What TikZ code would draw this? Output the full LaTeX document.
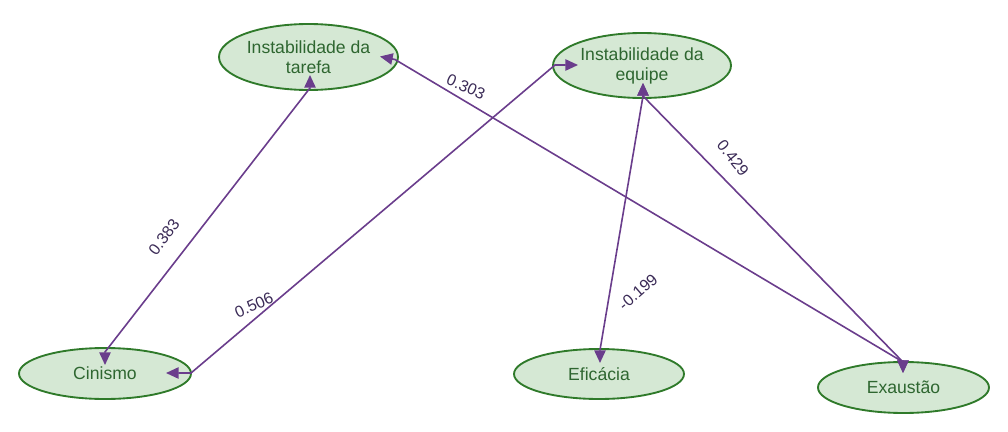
\documentclass[tikz,border=0pt]{standalone}
\usepackage{fontspec}
\setmainfont{Liberation Sans}
\usetikzlibrary{arrows.meta,calc,shapes.geometric}
\definecolor{ellfill}{HTML}{D5E8D4}
\definecolor{elldraw}{HTML}{2F7A2A}
\definecolor{elltext}{HTML}{2E6630}
\definecolor{edgecol}{HTML}{6A3D8C}
\definecolor{labcol}{HTML}{3A2A56}
\tikzset{
  latent/.style={ellipse, draw=elldraw, fill=ellfill, line width=1.4pt, inner sep=0pt,
    text=elltext, align=center, font=\fontsize{13.2}{15}\selectfont},
  sempath/.style={draw=edgecol, line width=1.2pt, {Triangle[length=9.5pt,width=8.5pt]}-{Triangle[length=9.5pt,width=8.5pt]}},
  coef/.style={text=labcol, font=\fontsize{12}{13}\selectfont, inner sep=1pt}
}
\begin{document}
\begin{tikzpicture}[x=0.75pt,y=-0.75pt]
\useasboundingbox (0,0) rectangle (1008,432);
\node[latent, minimum width=134.25pt, minimum height=49.5pt] (tar) at (308.5,57) {Instabilidade da\\tarefa};
\node[latent, minimum width=133.5pt, minimum height=48.75pt] (equ) at (642,65.5) {Instabilidade da\\equipe};
\node[latent, minimum width=129pt, minimum height=38.25pt] (cin) at (105,373.5) {Cinismo};
\node[latent, minimum width=127.5pt, minimum height=37.5pt] (efi) at (599,374) {Eficácia};
\node[latent, minimum width=128.25pt, minimum height=38.25pt] (exa) at (903.5,387.5) {Exaustão};
% anchor points
\coordinate (tarB) at ([shift={(1.5,18)}]tar.center);
\coordinate (tarR) at ([shift={(71.5,-0.5)}]tar.center);
\coordinate (cinT) at ([shift={(0,-8.5)}]cin.center);
\coordinate (cinR) at ([shift={(61,-0.5)}]cin.center);
\coordinate (equL) at ([shift={(-64,-0.5)}]equ.center);
\coordinate (equB) at ([shift={(1,17.5)}]equ.center);
\coordinate (efiT) at ([shift={(1,-11)}]efi.center);
\coordinate (exaT) at ([shift={(-0.5,-14.5)}]exa.center);
% paths
\draw[sempath] (cinT) -- ++(0,-13) -- ($(tarB)+(0,13)$) -- (tarB);
\draw[sempath] (cinR) -- ++(25,0) -- ($(equL)+(-23,0)$) -- (equL);
\draw[sempath] (tarR) -- ++(15,3) -- ($(exaT)+(0,-11)$) -- (exaT);
\draw[sempath] (equB) -- ++(0,13) -- ($(exaT)+(0,-11)$) -- (exaT);
\draw[sempath] (equB) -- ++(0,13) -- ($(efiT)+(0,-13)$) -- (efiT);
% coefficients
\node[coef, rotate=53] (l1) at (164,237) {0.383};
\node[coef, rotate=24] (l2) at (254,305) {0.506};
\node[coef, rotate=-24] (l3) at (466,87) {0.303};
\node[coef, rotate=-51] (l4) at (733,158) {0.429};
\node[coef, rotate=41] (l5) at (638,292) {-0.199};
\end{tikzpicture}
\end{document}
